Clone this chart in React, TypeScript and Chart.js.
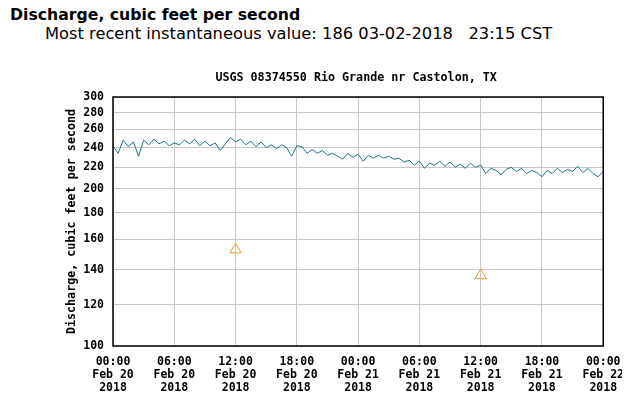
import React, { useEffect, useRef } from "react";
import { Chart, registerables } from "chart.js";

Chart.register(...registerables);

const PAGE_TITLE = "Discharge, cubic feet per second";
const PAGE_SUBTITLE = "Most recent instantaneous value: 186 03-02-2018   23:15 CST";
const CHART_TITLE = "USGS 08374550 Rio Grande nr Castolon, TX";
const Y_TITLE = "Discharge, cubic feet per second";

// readings every 30 minutes from 00:00 Feb 20 2018 (hours offset = index * STEP_HOURS)
const STEP_HOURS = 0.5;
const discharge = [
  242, 234, 248, 241, 246, 231, 248, 243, 249, 244, 247, 242, 245,
  243, 248, 244, 249, 242, 247, 242, 245, 237, 244, 251, 246,
  249, 243, 247, 241, 246, 240, 243, 239, 243, 240, 231, 242,
  241, 234, 238, 234, 237, 232, 234, 231, 228, 234, 230, 233,
  226, 232, 229, 232, 229, 231, 228, 229, 225, 227, 222, 226,
  219, 224, 222, 226, 221, 225, 220, 223, 219, 224, 220, 222,
  214, 219, 217, 213, 218, 220, 216, 219, 214, 217, 215, 211,
  217, 214, 219, 215, 218, 216, 221, 215, 219, 214, 211, 216,
];

// field measurements (triangles)
const measuredHours = [12, 36];
const measuredValues = [153, 136.5];

const xTickHours = [0, 6, 12, 18, 24, 30, 36, 42, 48];
const xTickTimes = ["00:00", "06:00", "12:00", "18:00", "00:00", "06:00", "12:00", "18:00", "00:00"];
const xTickDates = ["Feb 20", "Feb 20", "Feb 20", "Feb 20", "Feb 21", "Feb 21", "Feb 21", "Feb 21", "Feb 22"];
const xTickYears = ["2018", "2018", "2018", "2018", "2018", "2018", "2018", "2018", "2018"];
const yTicks = [100, 120, 140, 160, 180, 200, 220, 240, 260, 280, 300];

const MONO = '"DejaVu Sans Mono", "Liberation Mono", monospace';

export default function App() {
  const ref = useRef<HTMLCanvasElement | null>(null);

  useEffect(() => {
    document.body.style.margin = "0";
    const canvas = ref.current;
    if (!canvas) return;

    const framePlugin = {
      id: "frameAndTitle",
      afterDraw(chart: any) {
        const { ctx, chartArea: a } = chart;
        ctx.save();
        ctx.strokeStyle = "#000";
        ctx.lineWidth = 1.5;
        ctx.strokeRect(a.left, a.top, a.right - a.left, a.bottom - a.top);
        ctx.font = `bold 11.7px ${MONO}`;
        ctx.fillStyle = "#000";
        ctx.textAlign = "center";
        ctx.textBaseline = "middle";
        ctx.fillText(CHART_TITLE, (a.left + a.right) / 2 - 2, 78);
        ctx.restore();
      },
    };

    const chart = new Chart(canvas, {
      type: "scatter",
      data: {
        datasets: [
          {
            label: "Discharge",
            data: discharge.map((v, i) => ({ x: i * STEP_HOURS, y: v })),
            showLine: true,
            borderColor: "#1a7488",
            borderWidth: 1,
            pointRadius: 0,
            tension: 0,
          },
          {
            label: "Measured",
            data: measuredHours.map((h, i) => ({ x: h, y: measuredValues[i] })),
            showLine: false,
            pointStyle: "triangle",
            pointRadius: 6.5,
            borderColor: "#e0a020",
            backgroundColor: "rgba(0,0,0,0)",
            borderWidth: 1,
          },
        ],
      },
      options: {
        animation: false,
        responsive: false,
        layout: { padding: { top: 97, right: 29, bottom: 0, left: 0 } },
        plugins: {
          legend: { display: false },
          tooltip: { enabled: false },
          title: { display: false },
        },
        scales: {
          x: {
            type: "linear",
            min: 0,
            max: 48,
            afterBuildTicks: (scale: any) => {
              scale.ticks = xTickHours.map((v) => ({ value: v }));
            },
            afterFit: (scale: any) => {
              scale.height = 51;
            },
            grid: { color: "#c8c8c8", lineWidth: 1, drawTicks: false },
            border: { display: false },
            ticks: {
              autoSkip: false,
              maxRotation: 0,
              minRotation: 0,
              padding: 10,
              color: "#000",
              font: { family: MONO, size: 11.5, weight: "bold", lineHeight: "13px" },
              callback: (_v: any, i: number) => [xTickTimes[i], xTickDates[i], xTickYears[i]],
            },
          },
          y: {
            type: "logarithmic",
            min: 100,
            max: 300,
            afterBuildTicks: (scale: any) => {
              scale.ticks = yTicks.map((v) => ({ value: v }));
            },
            afterFit: (scale: any) => {
              scale.width = 113;
            },
            grid: { color: "#c8c8c8", lineWidth: 1, drawTicks: false },
            border: { display: false },
            ticks: {
              padding: 9,
              color: "#000",
              font: { family: MONO, size: 11.5, weight: "bold" },
              callback: (v: any) => String(v),
            },
            title: {
              display: true,
              text: Y_TITLE,
              color: "#000",
              font: { family: MONO, size: 11.7, weight: "bold" },
              padding: { top: 65, bottom: 0 },
            },
          },
        },
      },
      plugins: [framePlugin],
    } as any);

    return () => chart.destroy();
  }, []);

  return (
    <div style={{ position: "relative", width: 634, height: 397, background: "#fff", overflow: "hidden" }}>
      <div
        style={{
          position: "absolute",
          left: 10,
          top: 5,
          fontFamily: '"DejaVu Sans", Verdana, sans-serif',
          fontWeight: "bold",
          fontSize: 15.7,
          lineHeight: "19px",
          whiteSpace: "pre",
          color: "#000",
        }}
      >
        {PAGE_TITLE}
      </div>
      <div
        style={{
          position: "absolute",
          left: 45,
          top: 24,
          fontFamily: '"DejaVu Sans", Verdana, sans-serif',
          fontSize: 16.3,
          lineHeight: "19px",
          whiteSpace: "pre",
          color: "#000",
        }}
      >
        {PAGE_SUBTITLE}
      </div>
      <canvas
        ref={ref}
        width={634}
        height={397}
        style={{
          position: "absolute",
          left: 0,
          top: 0,
          width: 634,
          height: 397,
          clipPath: "inset(0 12px 0 0)",
        }}
      />
    </div>
  );
}
